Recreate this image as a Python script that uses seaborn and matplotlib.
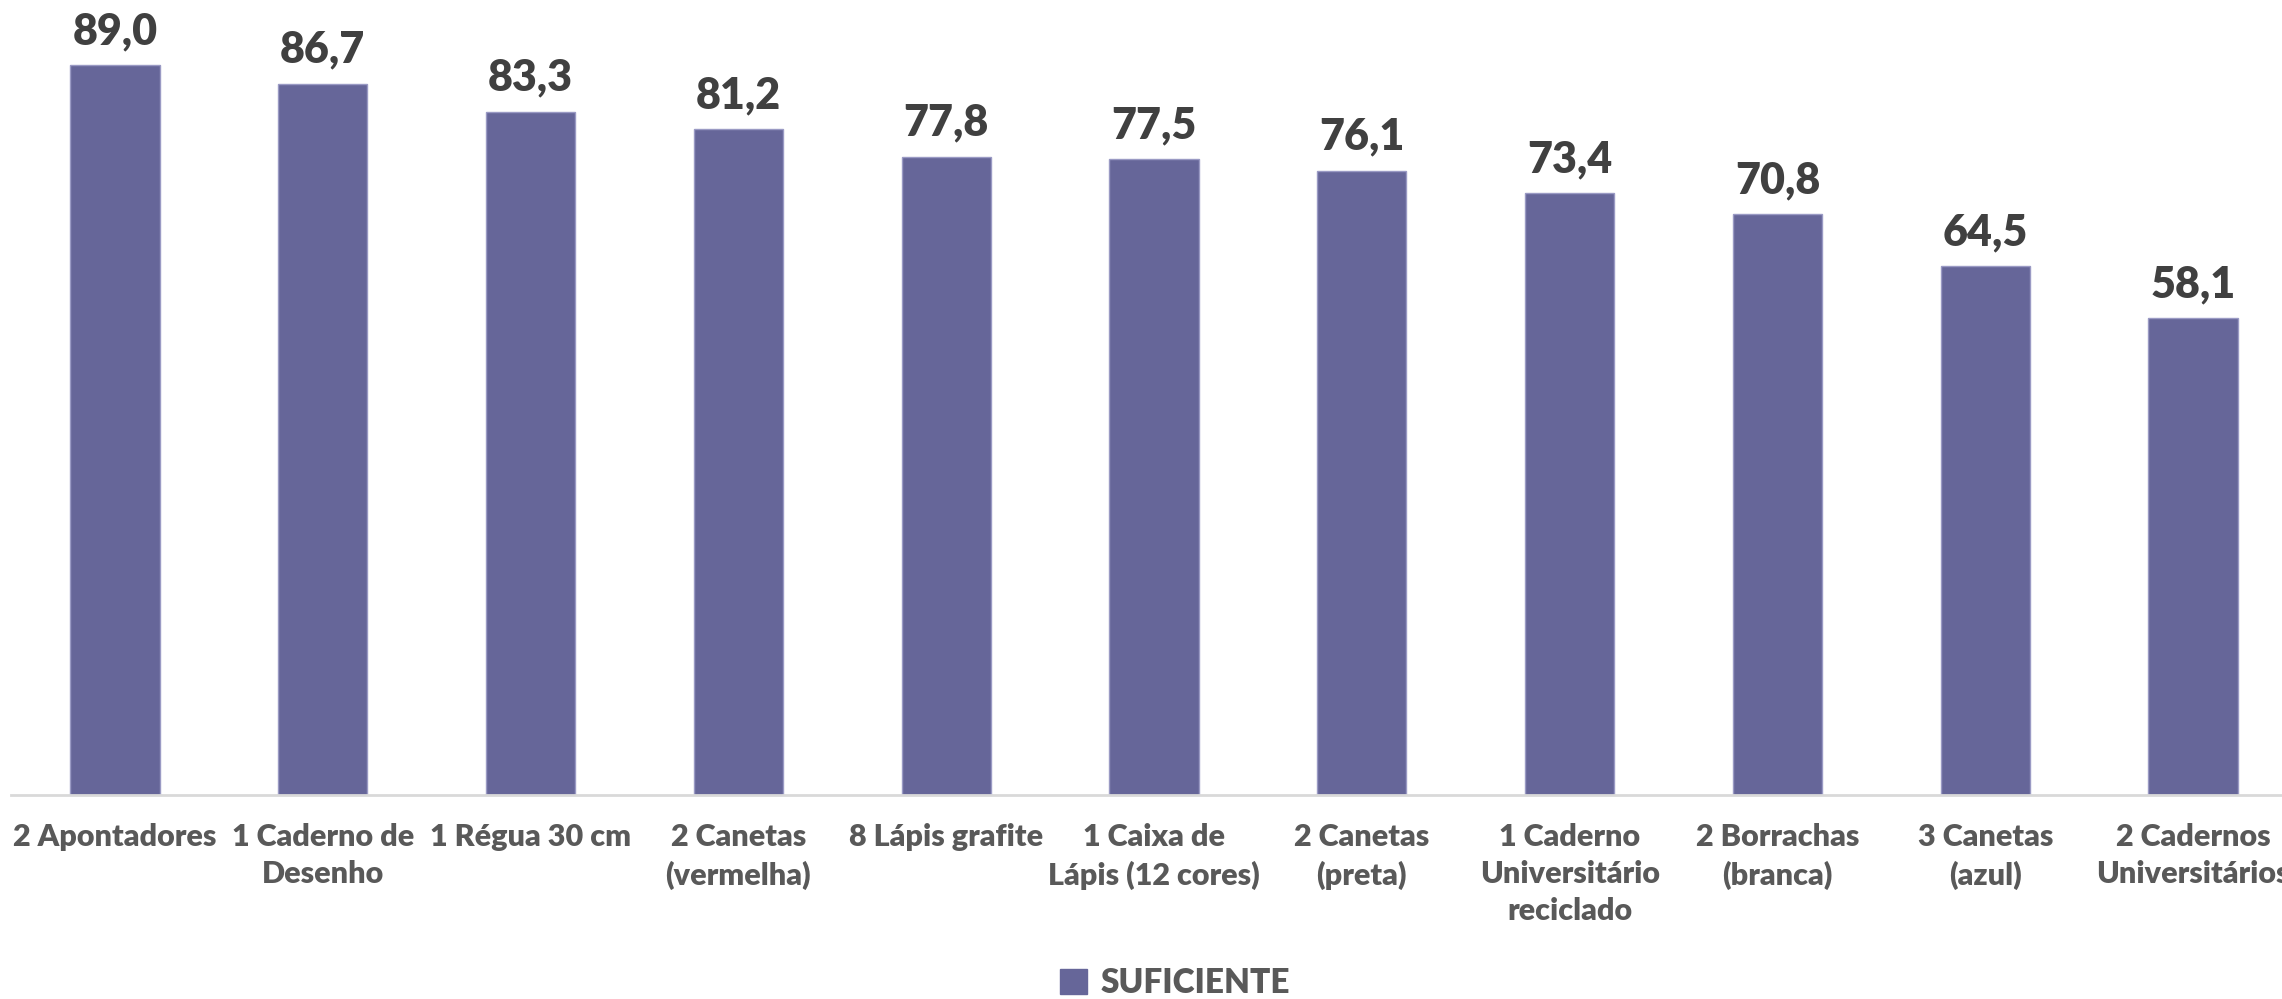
import matplotlib
matplotlib.use("Agg")
import matplotlib.pyplot as plt
import seaborn as sns
import pandas as pd
from matplotlib.patches import Patch

# data
itens = [
    "2 Apontadores",
    "1 Caderno de\nDesenho",
    "1 Régua 30 cm",
    "2 Canetas\n(vermelha)",
    "8 Lápis grafite",
    "1 Caixa de\nLápis (12 cores)",
    "2 Canetas\n(preta)",
    "1 Caderno\nUniversitário\nreciclado",
    "2 Borrachas\n(branca)",
    "3 Canetas\n(azul)",
    "2 Cadernos\nUniversitários",
]
suficiente = [89.0, 86.7, 83.3, 81.2, 77.8, 77.5, 76.1, 73.4, 70.8, 64.5, 58.1]
serie = "SUFICIENTE"

df = pd.DataFrame({"item": itens, "valor": suficiente})

sns.set_style("white")
plt.rcParams["font.family"] = ["Lato", "DejaVu Sans"]

cor = "#666699"
peso = "heavy"

fig = plt.figure(figsize=(22.82, 9.99), dpi=100)
# plot area runs a bit past the right edge, like the original
ax = fig.add_axes([11 / 2282, 204 / 999, 2286 / 2282, 795 / 999])

sns.barplot(data=df, x="item", y="valor", color=cor, width=0.43,
            edgecolor="#9a9ac4", linewidth=1, saturation=1, ax=ax)

ax.set_ylim(0, 96.9)
ax.set_xlim(-0.5, len(itens) - 0.5)
ax.set_xlabel("")
ax.set_ylabel("")
ax.set_yticks([])
for s in ["top", "right", "left"]:
    ax.spines[s].set_visible(False)
ax.spines["bottom"].set_color("#d9d9d9")
ax.spines["bottom"].set_linewidth(2)

ax.tick_params(axis="x", length=0, pad=20)
for lbl in ax.get_xticklabels():
    lbl.set_fontsize(22)
    lbl.set_fontweight(peso)
    lbl.set_color("#595959")
    lbl.set_linespacing(1.4)

ax.bar_label(ax.containers[0],
             labels=[f"{v:.1f}".replace(".", ",") for v in suficiente],
             padding=10, fontsize=31, fontweight=peso, color="#404040")

fig.legend(handles=[Patch(facecolor=cor, edgecolor=cor, label=serie)],
           loc="center", bbox_to_anchor=(1175 / 2282, 1 - 983 / 999),
           frameon=False, handlelength=0.8, handleheight=0.8, handletextpad=0.4,
           prop={"size": 24, "weight": peso}, labelcolor="#595959")

fig.savefig("out.png", dpi=100)
